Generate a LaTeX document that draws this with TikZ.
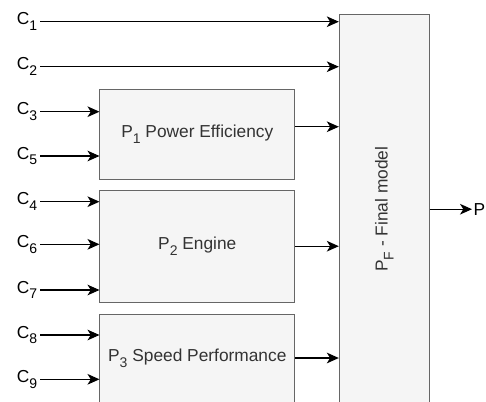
\documentclass[tikz,border=0pt]{standalone}
\usepackage{fontspec}
\setmainfont{Liberation Sans}
\usetikzlibrary{arrows.meta}
\definecolor{boxfill}{HTML}{F5F5F5}
\definecolor{boxline}{HTML}{666666}
\definecolor{boxtext}{HTML}{333333}
\newcommand{\lowidx}[1]{\raisebox{-4.4pt}{\fontsize{10.5}{10.5}\selectfont #1}}

\begin{document}
\begin{tikzpicture}[x=0.75pt, y=-0.75pt, every node/.style={font=\fontsize{13}{15}\selectfont}, >={Stealth[length=9pt, width=8pt, inset=2.5pt]},
	model/.style={draw=boxline, fill=boxfill, text=boxtext, line width=0.75pt, inner sep=0pt},
	inlabel/.style={anchor=east, inner sep=2pt},
	feed/.style={->, line width=0.8pt}]
	\clip (0,0) rectangle (486,401);
	\node[model, minimum width=67.5pt, minimum height=292.3pt] (fin) at (384.3,209.2) {};
	\node[rotate=90, text=boxtext] (fintext) at (fin.center) {P\lowidx{F} - Final model};
	\node[model, minimum width=146pt, minimum height=67.3pt] (p1) at (197.3,134.2) {P\lowidx{1} Power Efficiency};
	\node[model, minimum width=146pt, minimum height=84.2pt] (p2) at (197.3,246.2) {P\lowidx{2} Engine};
	\node[model, minimum width=146pt, minimum height=66pt] (p3) at (197.3,358) {P\lowidx{3} Speed Performance};
	\node[inlabel] (c1) at (40,21.7) {C\lowidx{1}};
	\node[inlabel] (c2) at (40,66.7) {C\lowidx{2}};
	\node[inlabel] (c3) at (40,111.7) {C\lowidx{3}};
	\node[inlabel] (c5) at (40,156) {C\lowidx{5}};
	\node[inlabel] (c4) at (40,201.7) {C\lowidx{4}};
	\node[inlabel] (c6) at (40,244.3) {C\lowidx{6}};
	\node[inlabel] (c7) at (40,290) {C\lowidx{7}};
	\node[inlabel] (c8) at (40,335) {C\lowidx{8}};
	\node[inlabel] (c9) at (40,379.3) {C\lowidx{9}};
	\node[anchor=west, inner sep=1pt] (pout) at (472,209.2) {P};
	\draw[feed] (c1.east) -- (c1.east -| fin.west);
	\draw[feed] (c2.east) -- (c2.east -| fin.west);
	\draw[feed] (c3.east) -- (c3.east -| p1.west);
	\draw[feed] (c5.east) -- (c5.east -| p1.west);
	\draw[feed] (c4.east) -- (c4.east -| p2.west);
	\draw[feed] (c6.east) -- (c6.east -| p2.west);
	\draw[feed] (c7.east) -- (c7.east -| p2.west);
	\draw[feed] (c8.east) -- (c8.east -| p3.west);
	\draw[feed] (c9.east) -- (c9.east -| p3.west);
	\draw[feed] ([yshift=5.6pt]p1.east) -- ([yshift=5.6pt]p1.east -| fin.west);
	\draw[feed] (p2.east) -- (p2.east -| fin.west);
	\draw[feed] (p3.east) -- (p3.east -| fin.west);
	\draw[feed] (fin.east) -- (pout.west);
\end{tikzpicture}
\end{document}
